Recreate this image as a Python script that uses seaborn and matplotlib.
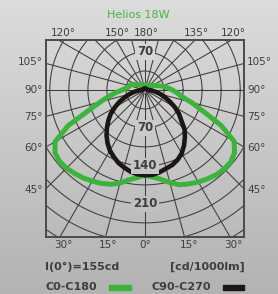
import numpy as np
import seaborn as sns
import matplotlib.pyplot as plt
from matplotlib.colors import LinearSegmentedColormap, to_rgb
from matplotlib.patches import Rectangle

# Luminous intensity (cd/1000lm) per gamma angle
angles = [0, 5, 10, 15, 20, 25, 30, 35, 40, 45, 50, 55, 60, 65, 70, 75, 80, 85, 90,
          100, 110, 120, 135, 150, 165, 180]
c0 = [157, 161, 167, 177, 186, 191, 196, 200, 204, 206, 206, 201, 189, 154, 113, 88, 68, 59, 50,
      37, 23, 17, 12, 10, 9, 9]
c180 = [157, 162, 168, 178, 185, 190, 194, 198, 201, 204, 205, 202, 191, 156, 110, 85, 67, 53, 42,
        31, 28, 20, 13, 10, 9, 9]
c90 = [157, 157, 154, 150, 147, 142, 135, 125, 114, 103, 87, 76, 63, 50, 39, 29, 20, 12, 5,
       3, 3, 3, 3, 3, 3, 3]
c270 = [157, 156, 153, 148, 143, 136, 129, 120, 110, 99, 88, 77, 64, 52, 39, 29, 20, 12, 5,
        3, 3, 3, 3, 3, 3, 3]

rings = [35, 70, 105, 140, 175, 210, 245, 280, 315]
ring_labels_down = [70, 140, 210]
ring_labels_up = [70]
spoke_step = 15

title = 'Helios 18W'
green = '#3cb43c'
black = '#1c1614'
grid_col = '#3c3c3c'
text_col = '#3e3e3e'
bg_top, bg_bottom = '#dcdcdc', '#b3b3b3'

W, H = 278, 294


def fx(px):
    return px / W


def fy(py):
    return 1 - py / H


def bg_at(py):
    t = py / H
    a, b = np.array(to_rgb(bg_top)), np.array(to_rgb(bg_bottom))
    return tuple(a + (b - a) * t)


def outline(right, left):
    th = np.radians(angles)
    r, l = np.array(right, float), np.array(left, float)
    x = np.concatenate([r * np.sin(th), (-l * np.sin(th))[::-1]])
    y = np.concatenate([-r * np.cos(th), (-l * np.cos(th))[::-1]])
    return np.append(x, x[0]), np.append(y, y[0])


plt.rcParams['font.family'] = ['DejaVu Sans']
fig = plt.figure(figsize=(W / 100, H / 100), dpi=100)

bg = fig.add_axes([0, 0, 1, 1], zorder=-5)
bg.imshow(np.linspace(0, 1, 256)[:, None], aspect='auto', extent=[0, 1, 0, 1],
          cmap=LinearSegmentedColormap.from_list('bg', [bg_top, bg_bottom]))
bg.axis('off')

ax = fig.add_axes([fx(46), fy(237), (244 - 46) / W, (237 - 40) / H])
ax.set_facecolor('none')
ax.set_xlim(-182, 182)
ax.set_ylim(-271, 92)
ax.set_xticks([])
ax.set_yticks([])
for s in ax.spines.values():
    s.set_color('#4a4a4a')
    s.set_linewidth(1.4)

# polar grid
t = np.linspace(0, 2 * np.pi, 400)
for r in rings:
    ax.plot(r * np.cos(t), r * np.sin(t), color=grid_col, lw=0.75, zorder=1)
for a in range(0, 360, spoke_step):
    th = np.radians(a)
    ax.plot([6 * np.sin(th), 420 * np.sin(th)], [-6 * np.cos(th), -420 * np.cos(th)],
            color=grid_col, lw=0.75, zorder=1)

gx, gy = outline(c0, c180)
bx, by = outline(c90, c270)
sns.lineplot(x=gx, y=gy, sort=False, estimator=None, color=green, lw=3.6, ax=ax,
             zorder=3, solid_joinstyle='round', solid_capstyle='round')
sns.lineplot(x=bx, y=by, sort=False, estimator=None, color=black, lw=3.3, ax=ax,
             zorder=4, solid_joinstyle='round', solid_capstyle='round')

for v in ring_labels_down:
    ax.text(0, -v, str(v), ha='center', va='center', fontsize=8.5, fontweight='bold',
            color=text_col, zorder=5,
            bbox=dict(boxstyle='square,pad=0.15', fc=bg_at(90 + v * 0.543), ec='none'))
for v in ring_labels_up:
    ax.text(0, v, str(v), ha='center', va='center', fontsize=8.5, fontweight='bold',
            color=text_col, zorder=5,
            bbox=dict(boxstyle='square,pad=0.15', fc=bg_at(90 - v * 0.543), ec='none'))

# angle labels around the frame
top_labels = [('120°', 63), ('150°', 117), ('180°', 146), ('135°', 196), ('120°', 233)]
side_labels = [('105°', 62), ('90°', 90), ('75°', 117), ('60°', 148), ('45°', 190)]
bottom_labels = [('30°', 63), ('15°', 108), ('0°', 145), ('15°', 189), ('30°', 233)]
for s, px in top_labels:
    fig.text(fx(px), fy(33), s, ha='center', va='center', fontsize=7.5, color=text_col)
for s, py in side_labels:
    fig.text(fx(43), fy(py), s, ha='right', va='center', fontsize=7.5, color=text_col)
    fig.text(fx(247), fy(py), s, ha='left', va='center', fontsize=7.5, color=text_col)
for s, px in bottom_labels:
    fig.text(fx(px), fy(245), s, ha='center', va='center', fontsize=7.5, color=text_col)

fig.text(fx(138), fy(15), title, ha='center', va='center', fontsize=8, color='#44b544')

fig.text(fx(45), fy(267), 'I(0°)=155cd', ha='left', va='center', fontsize=8,
         fontweight='bold', color=text_col)
fig.text(fx(245), fy(267), '[cd/1000lm]', ha='right', va='center', fontsize=8,
         fontweight='bold', color=text_col)
fig.text(fx(45), fy(287), 'C0-C180', ha='left', va='center', fontsize=8,
         fontweight='bold', color=text_col)
fig.text(fx(151), fy(287), 'C90-C270', ha='left', va='center', fontsize=8,
         fontweight='bold', color=text_col)
fig.patches.append(Rectangle((fx(109), fy(289.5)), 22 / W, 5 / H, transform=fig.transFigure,
                             color=green, figure=fig))
fig.patches.append(Rectangle((fx(223), fy(289.5)), 21 / W, 5 / H, transform=fig.transFigure,
                             color=black, figure=fig))

fig.savefig('out.png', dpi=100)
